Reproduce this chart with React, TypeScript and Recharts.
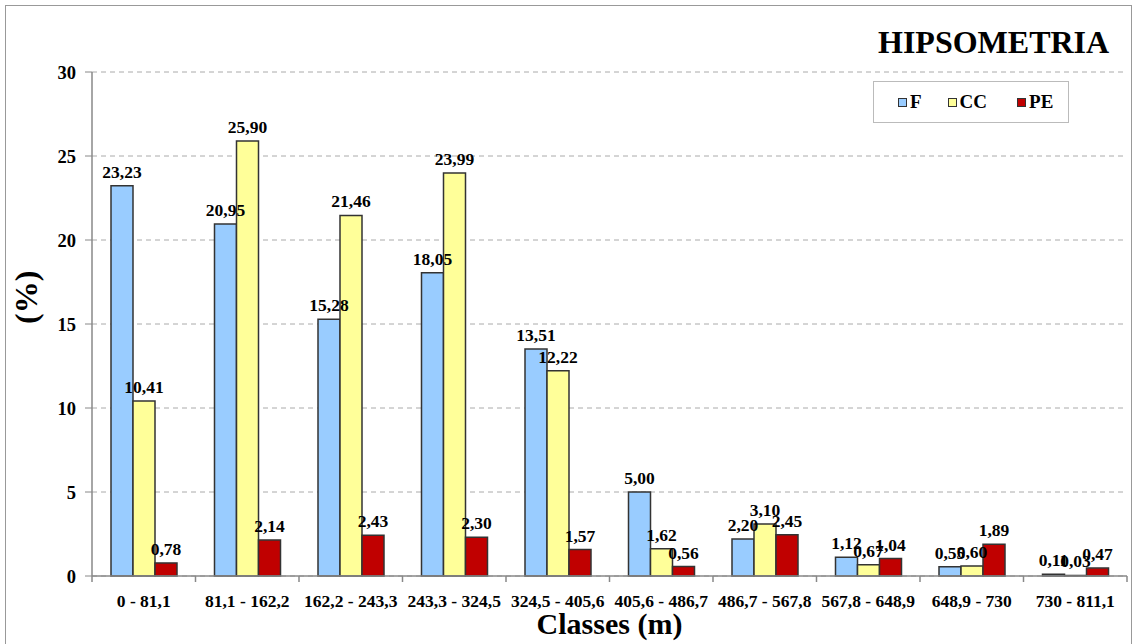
import React from 'react';
import { BarChart, Bar, XAxis, YAxis, CartesianGrid, LabelList } from 'recharts';

const categories = ['0 - 81,1', '81,1 - 162,2', '162,2 - 243,3', '243,3 - 324,5', '324,5 - 405,6', '405,6 - 486,7', '486,7 - 567,8', '567,8 - 648,9', '648,9 - 730', '730 - 811,1'];
const seriesF = [23.23, 20.95, 15.28, 18.05, 13.51, 5.0, 2.2, 1.12, 0.55, 0.11];
const seriesCC = [10.41, 25.9, 21.46, 23.99, 12.22, 1.62, 3.1, 0.67, 0.6, 0.03];
const seriesPE = [0.78, 2.14, 2.43, 2.3, 1.57, 0.56, 2.45, 1.04, 1.89, 0.47];
const yTicks = [0, 5, 10, 15, 20, 25, 30];
const seriesNames = ['F', 'CC', 'PE'];

const data = categories.map((c, i) => ({ name: c, F: seriesF[i], CC: seriesCC[i], PE: seriesPE[i] }));

const FONT = '"Liberation Serif", "Times New Roman", serif';
const COLORS: Record<string, string> = { F: '#99CCFF', CC: '#FFFF99', PE: '#C00000' };

const W = 1136;
const H = 644;
const M = { top: 72, right: 9, left: 32, bottom: 38 };
const YW = 60;
const plotW = W - M.left - M.right - YW;
const half = plotW / categories.length / 2;

const fmt = (v: any) => Number(v).toFixed(2).replace('.', ',');

const XTick = (props: any) => {
  const { x, y, payload, index } = props;
  const last = index === categories.length - 1;
  return (
    <g>
      <line x1={x - half} x2={x - half} y1={y - 8} y2={y - 2} stroke="#888" strokeWidth={1.5} />
      {last && <line x1={x + half} x2={x + half} y1={y - 8} y2={y - 2} stroke="#888" strokeWidth={1.5} />}
      <text x={x} y={y + 23} textAnchor="middle" fontFamily={FONT} fontWeight="bold" fontSize={17.5} fill="#000">
        {payload.value}
      </text>
    </g>
  );
};

const legendMargins = [24, 26, 30];

const LegendBox = () => (
  <div style={{ position: 'absolute', left: 873, top: 81, width: 196, height: 42, border: '1.5px solid #bbb', boxSizing: 'border-box', display: 'flex', alignItems: 'center', fontFamily: FONT, fontWeight: 'bold', fontSize: 19, color: '#000' }}>
    {seriesNames.map((k, i) => (
      <span key={k} style={{ display: 'flex', alignItems: 'center', marginLeft: legendMargins[i] }}>
        <span style={{ width: 7, height: 7, background: COLORS[k], border: '1.5px solid #333', marginRight: 3, display: 'inline-block' }} />
        {k}
      </span>
    ))}
  </div>
);

const labelStyle = { fontFamily: FONT, fontWeight: 'bold', fontSize: 17.5, fill: '#000' } as any;

export default function App() {
  return (
    <div style={{ position: 'absolute', left: 0, top: 0, width: W, height: H, background: '#fff', overflow: 'hidden' }}>
      <div style={{ position: 'absolute', left: 5, top: 5, width: 1127, height: 660, border: '1.5px solid #999', boxSizing: 'border-box' }} />
      <div style={{ position: 'absolute', left: 0, top: 0 }}>
        <BarChart width={W} height={H} data={data} margin={M} barGap={0} barSize={22}>
          <CartesianGrid vertical={false} stroke="#aaa" strokeDasharray="5 4" />
          <XAxis dataKey="name" tick={<XTick />} tickLine={false} axisLine={{ stroke: '#888', strokeWidth: 1.5 }} interval={0} height={30}
            label={{ value: 'Classes (m)', position: 'insideBottom', offset: -28, fontFamily: FONT, fontWeight: 'bold', fontSize: 30, fill: '#000' }} />
          <YAxis width={YW} domain={[0, 30]} ticks={yTicks} interval={0} axisLine={{ stroke: '#888', strokeWidth: 1.5 }} tickLine={{ stroke: '#888' }} tickSize={7} tickMargin={9}
            tick={{ fontFamily: FONT, fontWeight: 'bold', fontSize: 18.5, fill: '#000' }}
            label={{ value: '(%)', angle: -90, position: 'insideLeft', offset: -6, fontFamily: FONT, fontWeight: 'bold', fontSize: 32, fill: '#000' }} />
          {seriesNames.map((k) => (
            <Bar key={k} dataKey={k} fill={COLORS[k]} stroke="#333" strokeWidth={1.5} isAnimationActive={false}>
              <LabelList dataKey={k} position="top" offset={8} formatter={fmt} style={labelStyle} />
            </Bar>
          ))}
        </BarChart>
      </div>
      <div style={{ position: 'absolute', left: 878, top: 22, fontFamily: FONT, fontWeight: 'bold', fontSize: 32, color: '#000', lineHeight: '40px' }}>HIPSOMETRIA</div>
      <LegendBox />
    </div>
  );
}
